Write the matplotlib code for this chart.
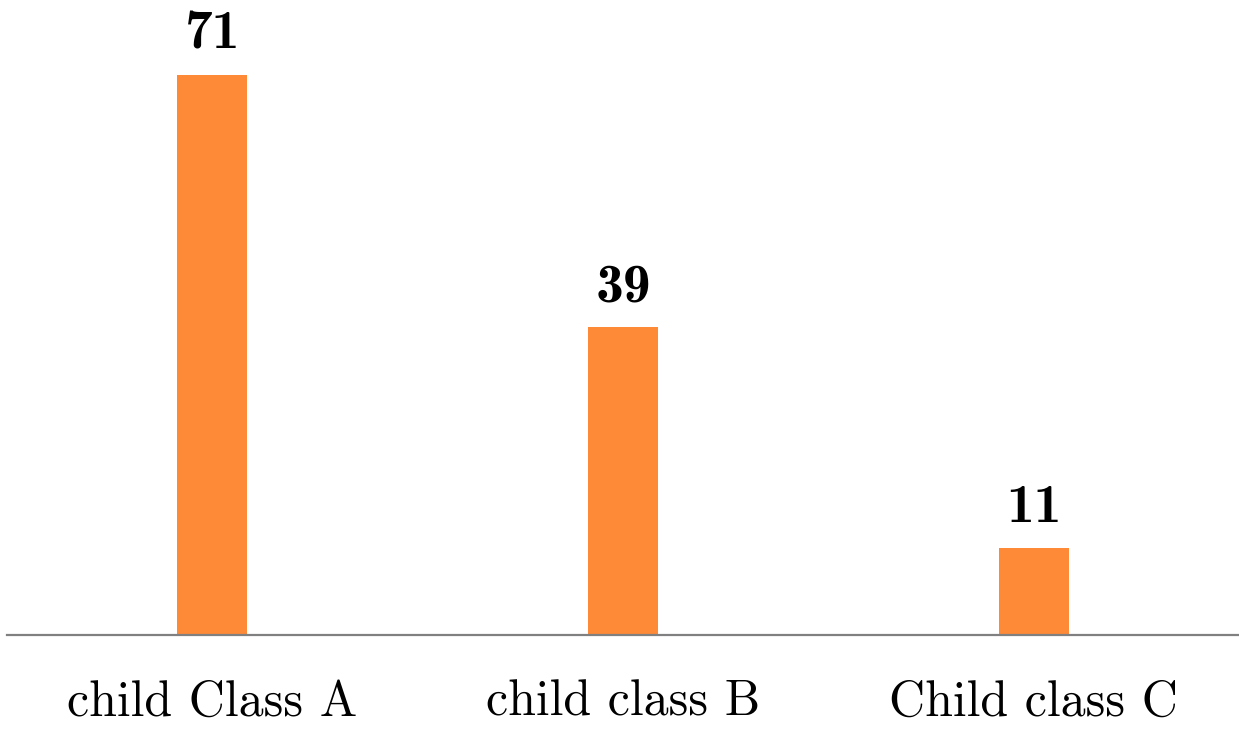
import matplotlib
matplotlib.use("Agg")
import matplotlib.pyplot as plt

categories = ["child Class A", "child class B", "Child class C"]
values = [71, 39, 11]

bar_color = "#FE8A38"
axis_color = "#808080"

fig = plt.figure(figsize=(12.39, 7.30), dpi=100)
ax = fig.add_axes([7/1239, 95/730, 1232/1239, 635/730])

x = list(range(len(categories)))
ax.bar(x, values, width=0.17, color=bar_color, zorder=2)
ax.set_xlim(-0.5, 2.5)
ax.set_ylim(0, 80.5)

for xi, v in zip(x, values):
    ax.annotate(str(v), (xi, v), xytext=(0, 11), textcoords="offset points",
                ha="center", va="bottom", fontsize=40, family="cmb10", color="black")

ax.set_xticks(x)
ax.set_xticklabels(categories, fontsize=36, family="cmr10")
ax.tick_params(axis="x", length=0, pad=32)
ax.set_yticks([])
for s in ["top", "right", "left"]:
    ax.spines[s].set_visible(False)
ax.spines["bottom"].set_color(axis_color)
ax.spines["bottom"].set_linewidth(1.6)

fig.savefig("out.png", dpi=100)
